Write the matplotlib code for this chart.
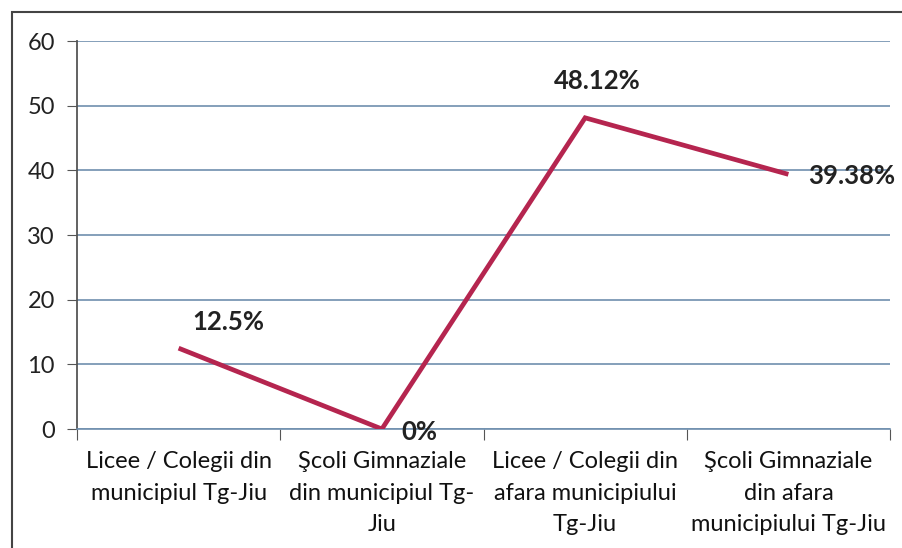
import matplotlib
matplotlib.use('Agg')
import matplotlib.pyplot as plt
from matplotlib.patches import Rectangle

# date
categorii = ['Licee / Colegii din\nmunicipiul Tg-Jiu',
             'Şcoli Gimnaziale\ndin municipiul Tg-\nJiu',
             'Licee / Colegii din\nafara municipiului\nTg-Jiu',
             'Şcoli Gimnaziale\ndin afara\nmunicipiului Tg-Jiu']
valori = [12.5, 0, 48.12, 39.38]
etichete = ['12.5%', '0%', '48.12%', '39.38%']
yticks = [0, 10, 20, 30, 40, 50, 60]

plt.rcParams['font.family'] = ['Lato', 'DejaVu Sans']

fig = plt.figure(figsize=(9.02, 5.48), dpi=100)
ax = fig.add_axes([77 / 902, 1 - 429 / 548, 813 / 902, 388 / 548])

x = [i + 0.5 for i in range(len(valori))]
ax.plot(x, valori, color='#b5254f', lw=3.4, solid_capstyle='butt',
        solid_joinstyle='miter', zorder=3)

# etichete de date (decalaj in pixeli fata de punct)
offsets = [(50, 26), (38, -3), (12, 37), (63, -2)]
for xi, v, t, (dx, dy) in zip(x, valori, etichete, offsets):
    ax.annotate(t, (xi, v), xytext=(dx, dy), textcoords='offset pixels',
                ha='center', va='center', fontsize=18.5, fontweight='bold',
                color='#222222', zorder=4)

ax.set_xlim(0, 4)
ax.set_ylim(0, 60)
ax.set_yticks(yticks)
ax.set_yticklabels([str(v) for v in yticks])
ax.set_xticks([0, 1, 2, 3, 4])
ax.set_xticklabels([])
ax.set_xticks(x, minor=True)
ax.set_xticklabels(categorii, minor=True, fontsize=17, color='#111111',
                   linespacing=1.62)
ax.tick_params(axis='x', which='minor', length=0, pad=16)
ax.tick_params(axis='x', which='major', length=8, color='#555555')
ax.tick_params(axis='y', length=7, color='#555555', labelsize=17,
               labelcolor='#222222', pad=9)

ax.yaxis.grid(True, color='#6f8fae', lw=1.2)
ax.set_axisbelow(True)
for s in ['top', 'right']:
    ax.spines[s].set_visible(False)
ax.spines['left'].set_color('#555555')
ax.spines['left'].set_linewidth(1.3)
ax.spines['bottom'].set_color('#6f8fae')
ax.spines['bottom'].set_linewidth(1.2)

# chenarul graficului
fig.patches.append(Rectangle((12 / 902, -0.05), 1.0, 1 - 12 / 548 + 0.05,
                             transform=fig.transFigure, fill=False,
                             edgecolor='#444444', lw=1.5))

fig.savefig('out.png', dpi=100)
